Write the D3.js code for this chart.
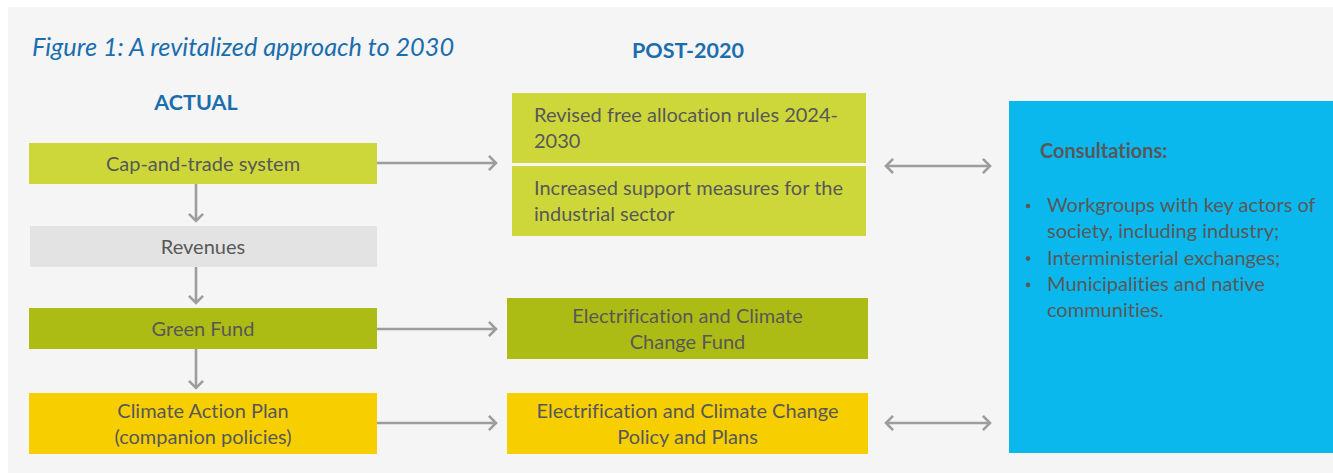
<!DOCTYPE html>
<html><head><meta charset="utf-8">
<script src="https://cdn.jsdelivr.net/npm/d3@7"></script>
<style>
html,body{margin:0;padding:0;background:#fff;}
svg{display:block;}
text{font-family:Lato,"Open Sans",sans-serif;font-variant-ligatures:none;}
</style></head>
<body>
<svg id="c" width="1333" height="473"></svg>
<script>
// ---- data ----
const title = "Figure 1: A revitalized approach to 2030";
const columnHeaders = ["ACTUAL", "POST-2020"];
const actualBoxes = [
  ["Cap-and-trade system"],
  ["Revenues"],
  ["Green Fund"],
  ["Climate Action Plan", "(companion policies)"]
];
const actualKinds = ["light", "grey", "olive", "yellow"];
const postBoxes = [
  ["Revised free allocation rules 2024-", "2030"],
  ["Increased support measures for the", "industrial sector"],
  ["Electrification and Climate", "Change Fund"],
  ["Electrification and Climate Change", "Policy and Plans"]
];
const postKinds = ["light", "light", "olive", "yellow"];
const postAlign = ["left", "left", "middle", "middle"];
const flowsDown = [[0, 1], [1, 2], [2, 3]];
const flowsRight = [[0, 0], [2, 2], [3, 3]];
const consultTitle = "Consultations:";
const consultItems = [
  ["Workgroups with key actors of", "society, including industry;"],
  ["Interministerial exchanges;"],
  ["Municipalities and native", "communities."]
];

// ---- styles / layout ----
const colors = {light:"#cdd73a", grey:"#e3e3e3", olive:"#adbc14", yellow:"#f7cf00"};
const textCol = "#585858", blue = "#1b6eae", arrowCol = "#9d9d9d";
const svg = d3.select("#c");

svg.append("rect").attr("x",8).attr("y",7).attr("width",1325).attr("height",466).attr("fill","#f5f5f5");

const actualRows = [[143,184],[226,267],[308,349],[393,454]];
const postRows = [[93,163],[166,236],[298,359],[393,454]];
const xA = d3.scaleLinear().domain([0,1]).range([29,377]);
const xP = d3.scaleLinear().domain([0,1]).range([512,866]);
const xP2 = d3.scaleLinear().domain([0,1]).range([507,868]);
const fs = 20, lh = 26;

svg.append("text").attr("x",32).attr("y",56).attr("fill",blue)
  .attr("font-size",25.3).attr("font-style","italic").text(title);
svg.append("text").attr("x",196).attr("y",110).attr("fill",blue).attr("text-anchor","middle")
  .attr("font-size",21.5).attr("font-weight","bold").text(columnHeaders[0]);
svg.append("text").attr("x",688).attr("y",58).attr("fill",blue).attr("text-anchor","middle")
  .attr("font-size",21.5).attr("font-weight","bold").text(columnHeaders[1]);

function drawText(g, lines, x, yc, anchor){
  const t = g.append("text").attr("fill",textCol).attr("font-size",fs).attr("text-anchor",anchor);
  const n = lines.length;
  lines.forEach((l,i)=>{
    t.append("tspan").attr("x",x).attr("y", yc + (i-(n-1)/2)*lh + fs*0.35).text(l);
  });
}

const gA = svg.append("g");
actualBoxes.forEach((lines,i)=>{
  const [t,b] = actualRows[i];
  const x0 = i===1 ? xA(0)+1 : xA(0);
  gA.append("rect").attr("x",x0).attr("y",t).attr("width",xA(1)-x0).attr("height",b-t).attr("fill",colors[actualKinds[i]]);
  drawText(gA, lines, (xA(0)+xA(1))/2, (t+b)/2, "middle");
});

const gP = svg.append("g");
postBoxes.forEach((lines,i)=>{
  const [t,b] = postRows[i];
  const sc = i<2 ? xP : xP2;
  gP.append("rect").attr("x",sc(0)).attr("y",t).attr("width",sc(1)-sc(0)).attr("height",b-t).attr("fill",colors[postKinds[i]]);
  if(postAlign[i]==="left") drawText(gP, lines, sc(0)+22, (t+b)/2, "start");
  else drawText(gP, lines, (sc(0)+sc(1))/2, (t+b)/2, "middle");
});

// arrows
const ga = svg.append("g").attr("stroke",arrowCol).attr("stroke-width",2.6).attr("fill","none");
function head(x,y,dir){
  const s=10;
  const a = dir*Math.PI/180;
  const p1=[x - s*Math.cos(a-Math.PI/4), y - s*Math.sin(a-Math.PI/4)];
  const p2=[x - s*Math.cos(a+Math.PI/4), y - s*Math.sin(a+Math.PI/4)];
  ga.append("path").attr("d",`M${p1}L${x},${y}L${p2}`);
}
flowsDown.forEach(([a,b])=>{
  const x=196, y1=actualRows[a][1], y2=actualRows[b][0]-5;
  ga.append("line").attr("x1",x).attr("x2",x).attr("y1",y1).attr("y2",y2);
  head(x,y2,90);
});
const rightY = [163, null, 329, 423];
flowsRight.forEach(([a,b])=>{
  const y=rightY[a];
  ga.append("line").attr("x1",xA(1)).attr("x2",496).attr("y1",y).attr("y2",y);
  head(496,y,0);
});
[166,423].forEach(y=>{
  ga.append("line").attr("x1",886).attr("x2",990).attr("y1",y).attr("y2",y);
  head(990,y,0); head(886,y,180);
});

// consultations box
svg.append("rect").attr("x",1009).attr("y",101).attr("width",324).attr("height",352).attr("fill","#0bb8ee");
svg.append("text").attr("x",1040).attr("y",158).attr("fill",textCol).attr("font-size",fs).attr("font-weight","bold").text(consultTitle);
let yy = 212;
consultItems.forEach(item=>{
  svg.append("circle").attr("cx",1028).attr("cy",yy-6).attr("r",2.3).attr("fill",textCol);
  item.forEach(l=>{
    svg.append("text").attr("x",1047).attr("y",yy).attr("fill",textCol).attr("font-size",fs).text(l);
    yy += 26.3;
  });
});
</script>
</body></html>
